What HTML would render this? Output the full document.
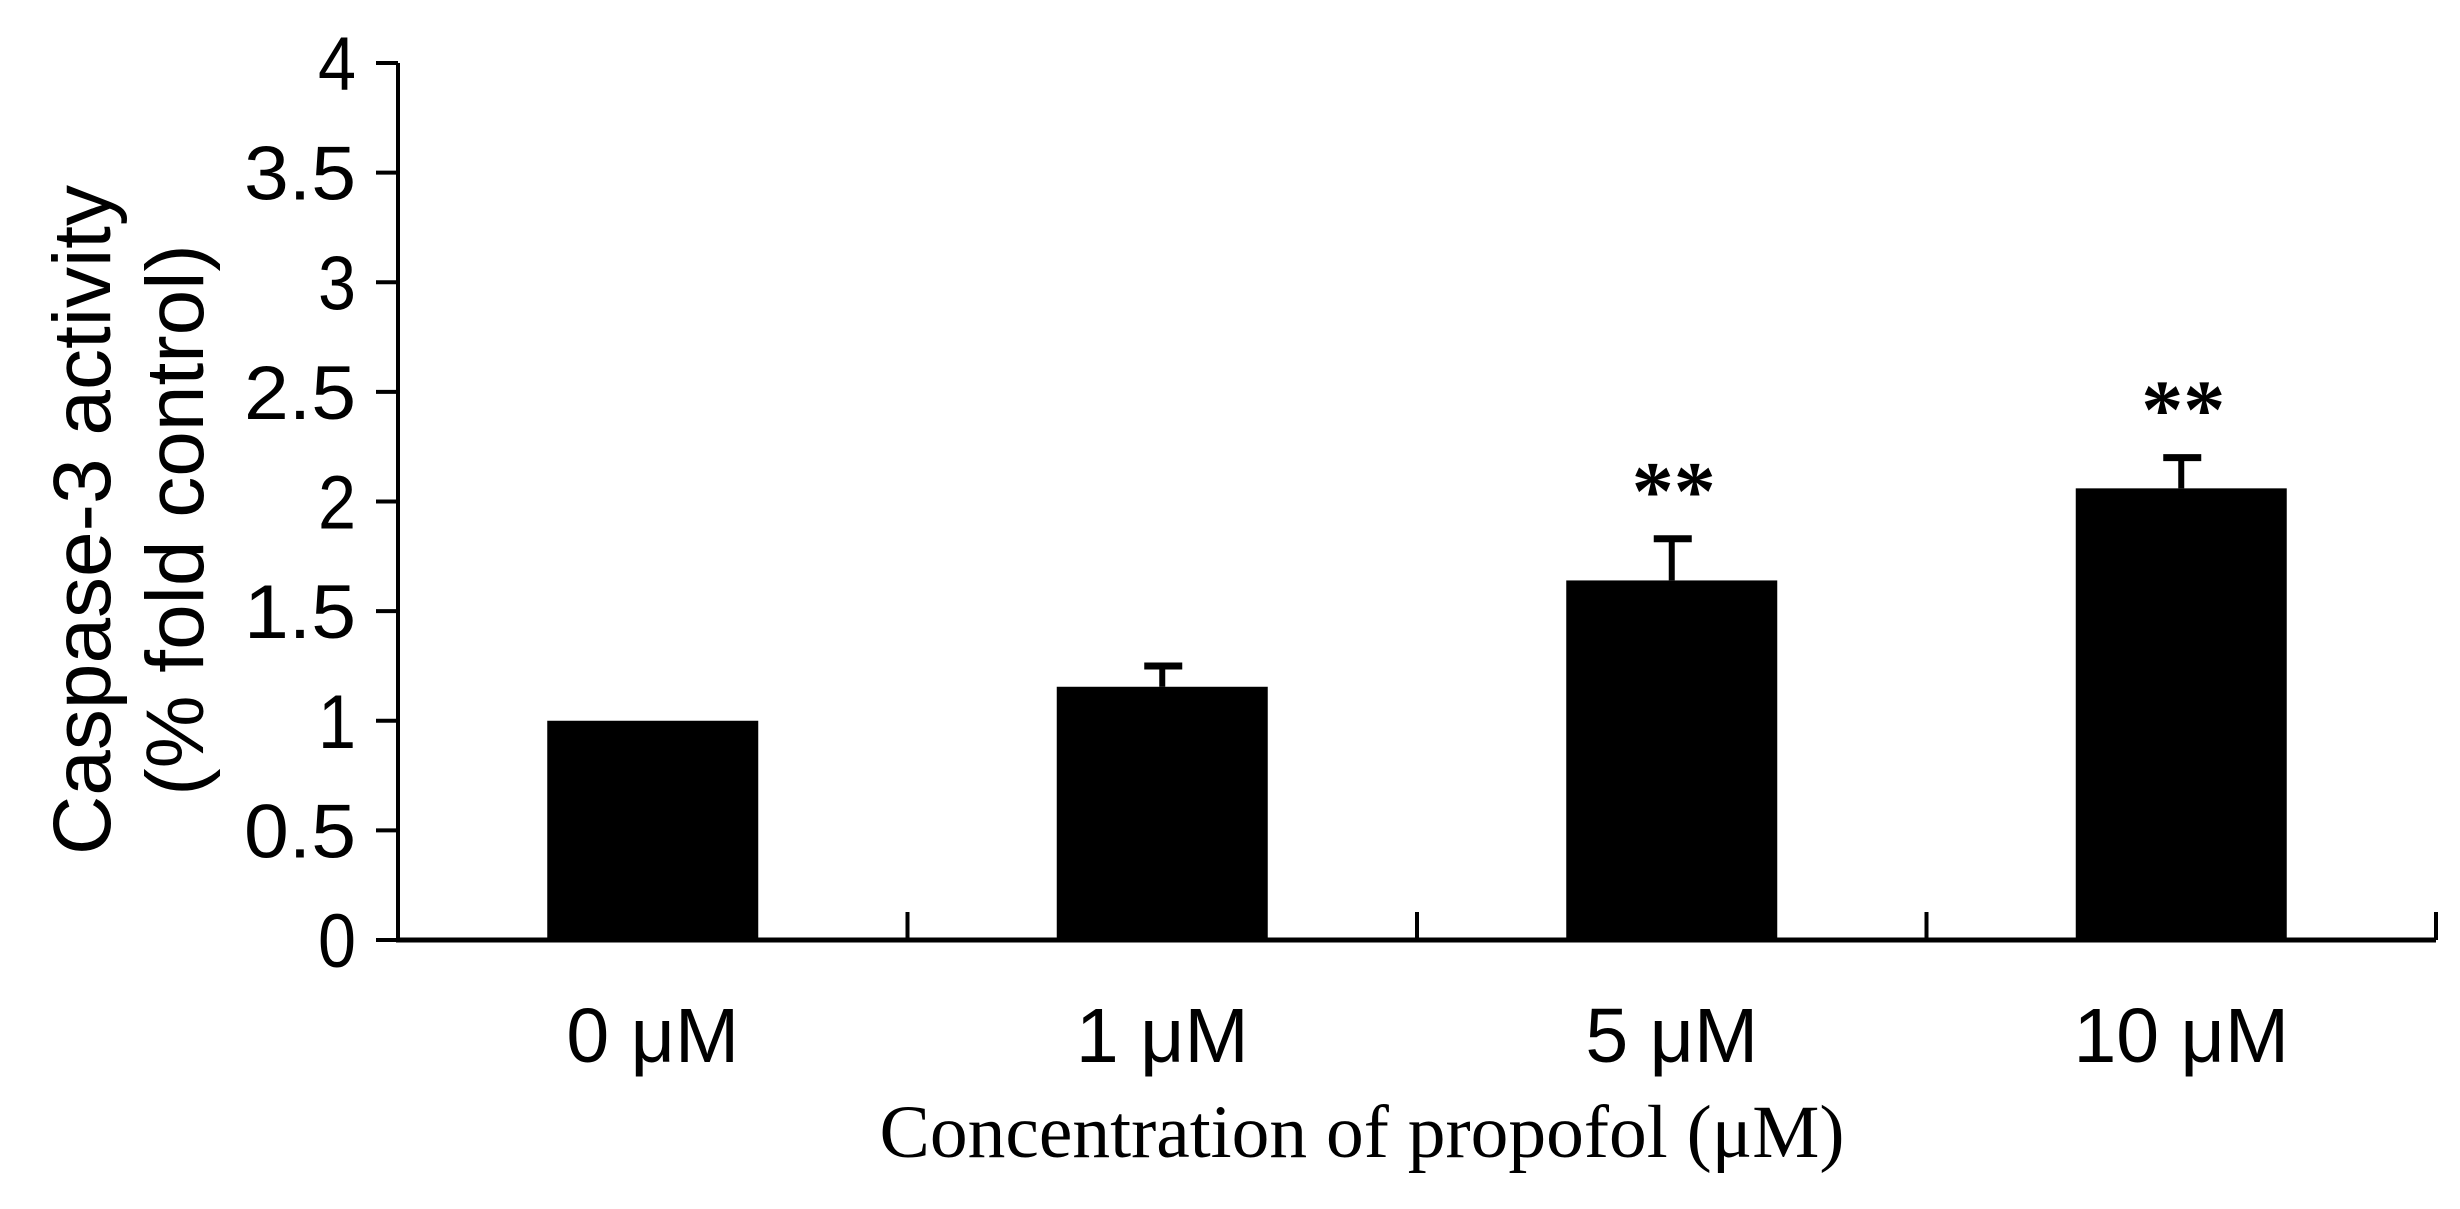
<!DOCTYPE html>
<html><head><meta charset="utf-8"><style>
html,body{margin:0;padding:0;background:#fff;}
svg{display:block;}
text{font-family:"Liberation Sans",Arial,sans-serif;fill:#000;}
</style></head><body>
<svg id="chart" width="2460" height="1209" viewBox="0 0 2460 1209" xmlns="http://www.w3.org/2000/svg">
<g id="yaxis"></g>
<g id="xaxis"></g>
<g id="bars"></g>
<text transform="translate(110,520) rotate(-90)" text-anchor="middle" font-size="82">Caspase-3 activity</text>
<text transform="translate(203,520) rotate(-90)" text-anchor="middle" font-size="82">(% fold control)</text>
<text x="1362" y="1157" text-anchor="middle" font-size="75" textLength="965" lengthAdjust="spacingAndGlyphs" style="font-family:'Liberation Serif','Times New Roman',serif">Concentration of propofol (μM)</text>
</svg>
<script>
const categories = ["0 μM", "1 μM", "5 μM", "10 μM"];
const values = [1.0, 1.155, 1.64, 2.06];
const errors = [0, 0.095, 0.19, 0.14];
const significance = ["", "", "**", "**"];
const yTicks = [0, 0.5, 1, 1.5, 2, 2.5, 3, 3.5, 4];
const yTickLabels = ["0", "0.5", "1", "1.5", "2", "2.5", "3", "3.5", "4"];

const NS = "http://www.w3.org/2000/svg";
const X0 = 398, X1 = 2436, Y0 = 940, Y4 = 63, YMAX = 4;
const bandW = (X1 - X0) / categories.length;
const barW = 211;
function yScale(v){ return Y0 - (v / YMAX) * (Y0 - Y4); }
function xCenter(i){ return X0 + (i + 0.5) * bandW; }
function mk(tag, attrs, parent){
  const e = document.createElementNS(NS, tag);
  for (const k in attrs) e.setAttribute(k, attrs[k]);
  parent.appendChild(e);
  return e;
}
const ya = document.getElementById('yaxis');
const xa = document.getElementById('xaxis');
const bg = document.getElementById('bars');

const yl = mk('line', {x1:X0, y1:Y4, x2:X0, y2:Y0, stroke:'#000', 'stroke-width':4}, ya);


yTicks.forEach((t, i) => {
  const y = yScale(t);
  const tk = mk('line', {x1:X0 - 22, y1:y, x2:X0, y2:y, stroke:'#000', 'stroke-width':4}, ya);
  
  
  const lb = mk('text', {x:356, y:y + 27, 'text-anchor':'end', 'font-size':76, textLength: yTickLabels[i].length > 1 ? 112 : 38, lengthAdjust:'spacingAndGlyphs'}, ya);
  
  
  lb.textContent = yTickLabels[i];
});

const xl = mk('line', {x1:X0 - 2, y1:Y0, x2:X1, y2:Y0, stroke:'#000', 'stroke-width':5}, xa);


categories.forEach((c, i) => {
  const tx = X0 + (i + 1) * bandW;
  const tk = mk('line', {x1:tx, y1:Y0 - 28, x2:tx, y2:Y0, stroke:'#000', 'stroke-width':4}, xa);
  
  
  const lb = mk('text', {x:xCenter(i), y:1062, 'text-anchor':'middle', 'font-size':77}, xa);
  
  
  lb.textContent = c;
});

values.forEach((v, i) => {
  const cx = xCenter(i);
  const top = yScale(v);
  const r = mk('rect', {x:cx - barW / 2, y:top, width:barW, height:Y0 - top, fill:'#000'}, bg);
  
  
  if (errors[i] > 0) {
    const et = yScale(v + errors[i]);
    const el = mk('line', {x1:cx, y1:top, x2:cx, y2:et, stroke:'#000', 'stroke-width':6}, bg);
    
    
    const cap = mk('line', {x1:cx - 18, y1:et, x2:cx + 20, y2:et, stroke:'#000', 'stroke-width':7}, bg);
    
    
  }
  if (significance[i]) {
    const et = yScale(v + errors[i]);
    const s = mk('text', {x:cx + 2, y:et - 20, 'text-anchor':'middle', 'font-size':84, 'font-weight':'bold', style:"font-family:'Liberation Serif',serif"}, bg);
    
    
    s.textContent = significance[i];
  }
});
</script>
</body></html>
